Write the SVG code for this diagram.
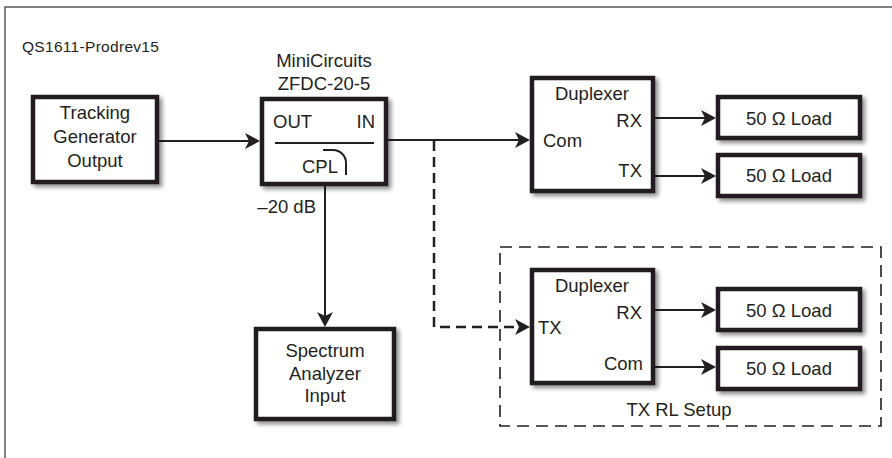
<svg xmlns="http://www.w3.org/2000/svg" width="892" height="458" viewBox="0 0 892 458">
<style>
text{font-family:"Liberation Sans",Arial,sans-serif;font-size:18.5px;fill:#231f20}
.box{fill:#fff;stroke:#231f20;stroke-width:4.5;stroke-linejoin:miter}
.ln{fill:none;stroke:#231f20;stroke-width:2}
.dash{fill:none;stroke:#231f20;stroke-width:2.5;stroke-dasharray:10 6}
.mid{text-anchor:middle}
.end{text-anchor:end}
</style>
<defs>
<filter id="sh" x="-10%" y="-10%" width="130%" height="130%">
<feGaussianBlur in="SourceAlpha" stdDeviation="2"/>
<feOffset dx="3" dy="3" result="b"/>
<feComponentTransfer><feFuncA type="linear" slope="0.45"/></feComponentTransfer>
<feMerge><feMergeNode/><feMergeNode in="SourceGraphic"/></feMerge>
</filter>
<marker id="ah" markerUnits="userSpaceOnUse" markerWidth="16" markerHeight="16" refX="10" refY="8" orient="auto">
<path d="M0,0 L15,8 L0,16 L4,8 z" fill="#231f20"/>
</marker>
</defs>
<rect x="5" y="7" width="900" height="460" fill="#fff" stroke="#555" stroke-width="1.5"/>
<text x="22" y="52" style="font-size:15.5px;letter-spacing:0.3px">QS1611-Prodrev15</text>

<g id="connectors">
<line class="ln" x1="159" y1="141" x2="255" y2="141" marker-end="url(#ah)"/>
<line class="ln" x1="388" y1="140" x2="525" y2="140" marker-end="url(#ah)"/>
<line class="ln" x1="325" y1="186" x2="325" y2="322" marker-end="url(#ah)"/>
<line class="ln" x1="655" y1="118" x2="711" y2="118" marker-end="url(#ah)"/>
<line class="ln" x1="655" y1="176" x2="711" y2="176" marker-end="url(#ah)"/>
<line class="ln" x1="655" y1="310" x2="711" y2="310" marker-end="url(#ah)"/>
<line class="ln" x1="655" y1="367" x2="711" y2="367" marker-end="url(#ah)"/>
<path class="dash" d="M434,141 V327 H525" marker-end="url(#ah)"/>
<text x="316" y="213" class="end">–20 dB</text>
</g>

<g id="setup">
<rect x="500" y="247" width="381" height="179" fill="none" stroke="#231f20" stroke-width="1.6" stroke-dasharray="12 7"/>
<text x="679" y="416" class="mid">TX RL Setup</text>
</g>

<g id="tracking">
<rect class="box" x="33" y="97" width="124" height="85" filter="url(#sh)"/>
<text x="95" y="119" class="mid">Tracking</text>
<text x="95" y="143" class="mid">Generator</text>
<text x="95" y="167" class="mid">Output</text>
</g>

<g id="coupler">
<text x="324" y="67" class="mid">MiniCircuits</text>
<text x="324" y="90" class="mid">ZFDC-20-5</text>
<rect class="box" x="262" y="99" width="124" height="85" filter="url(#sh)"/>
<text x="273" y="128">OUT</text>
<text x="375" y="128" class="end">IN</text>
<line class="ln" x1="275" y1="143" x2="374" y2="143"/>
<text x="320" y="173" class="mid">CPL</text>
<path class="ln" d="M323,150 H333 A13,13 0 0 1 346,163 V175"/>
</g>

<g id="spectrum">
<rect class="box" x="256" y="329" width="138" height="90" filter="url(#sh)"/>
<text x="325" y="357" class="mid">Spectrum</text>
<text x="325" y="380" class="mid">Analyzer</text>
<text x="325" y="402" class="mid">Input</text>
</g>

<g id="duplexer1">
<rect class="box" x="532" y="78" width="121" height="113" filter="url(#sh)"/>
<text x="592" y="100" class="mid">Duplexer</text>
<text x="642" y="127" class="end">RX</text>
<text x="543" y="147">Com</text>
<text x="642" y="177" class="end">TX</text>
</g>

<g id="duplexer2">
<rect class="box" x="532" y="270" width="121" height="113" filter="url(#sh)"/>
<text x="592" y="292" class="mid">Duplexer</text>
<text x="642" y="319" class="end">RX</text>
<text x="538" y="334">TX</text>
<text x="643" y="370" class="end">Com</text>
</g>

<g id="load1">
<rect class="box" x="718" y="97" width="142" height="41" filter="url(#sh)"/>
<text x="789" y="125" class="mid">50 Ω Load</text>
</g>
<g id="load2">
<rect class="box" x="718" y="155" width="142" height="41" filter="url(#sh)"/>
<text x="789" y="182" class="mid">50 Ω Load</text>
</g>
<g id="load3">
<rect class="box" x="718" y="289" width="142" height="41" filter="url(#sh)"/>
<text x="789" y="317" class="mid">50 Ω Load</text>
</g>
<g id="load4">
<rect class="box" x="718" y="348" width="142" height="41" filter="url(#sh)"/>
<text x="789" y="375" class="mid">50 Ω Load</text>
</g>
</svg>
